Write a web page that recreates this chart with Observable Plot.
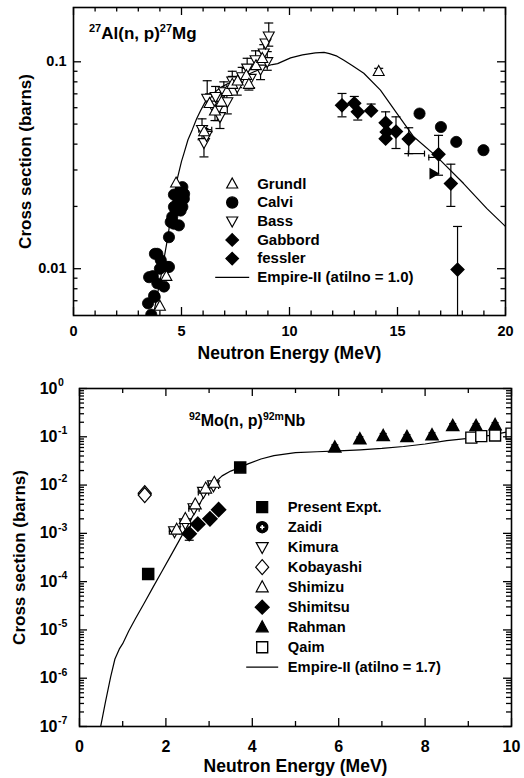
<!DOCTYPE html>
<html><head><meta charset="utf-8">
<script src="https://cdn.jsdelivr.net/npm/d3@7"></script>
<script src="https://cdn.jsdelivr.net/npm/@observablehq/plot@0.6"></script>
<style>
body{margin:0;background:#fff;}
#chart{width:524px;height:778px;position:relative;overflow:hidden;background:#fff;}
#chart svg{display:block;}
</style></head><body><div id="chart"></div>
<script>
// ================= TOP PANEL: 27Al(n,p)27Mg =================
const alCurveE = [3.70, 3.85, 4.04, 4.34, 4.55, 4.76, 5.00, 5.11, 5.30, 5.50, 5.70, 5.88, 6.10, 6.30, 6.80, 7.40, 8.20, 8.97, 9.20, 9.45, 10.05, 10.60, 11.20, 11.60, 11.85, 12.20, 12.50, 12.90, 13.44, 14.21, 14.98, 15.75, 16.83, 18.06, 19.14, 20.00];
const alCurveS = [0.0060, 0.0072, 0.0091, 0.0137, 0.0190, 0.0260, 0.0330, 0.0360, 0.0420, 0.0470, 0.0530, 0.0580, 0.0640, 0.0680, 0.0750, 0.0810, 0.0880, 0.0955, 0.0970, 0.0980, 0.1045, 0.1080, 0.1105, 0.1110, 0.1095, 0.1065, 0.1020, 0.0960, 0.0880, 0.0730, 0.0562, 0.0434, 0.0347, 0.0258, 0.0195, 0.0160];

const calviE = [3.45, 3.50, 3.60, 3.67, 3.73, 3.76, 3.77, 3.88, 3.88, 4.00, 4.04, 4.19, 4.34, 4.42, 4.42, 4.50, 4.57, 4.65, 4.65, 4.65, 4.73, 4.81, 4.81, 4.88, 4.90, 4.96, 4.96, 5.04, 5.04, 5.11, 5.12, 16.02, 17.01, 17.72, 18.98];
const calviS = [0.0068, 0.0091, 0.0060, 0.0092, 0.0074, 0.0073, 0.0118, 0.0085, 0.0118, 0.0100, 0.0110, 0.0082, 0.0102, 0.0102, 0.0142, 0.0168, 0.0178, 0.0165, 0.0199, 0.0228, 0.0191, 0.0205, 0.0222, 0.0162, 0.0225, 0.0191, 0.0240, 0.0199, 0.0248, 0.0218, 0.0230, 0.0562, 0.0484, 0.0410, 0.0374];

const grundlE  = [4.00, 4.30, 4.75, 6.05, 6.30, 6.55, 6.85, 7.10, 7.35, 7.60, 8.00, 8.12, 8.45, 8.74, 14.13];
const grundlS  = [0.0066, 0.0092, 0.026, 0.046, 0.063, 0.058, 0.064, 0.072, 0.078, 0.081, 0.086, 0.078, 0.096, 0.104, 0.090];
const grundlLo = [null, null, null, null, null, 0.052, null, 0.066, null, 0.075, null, 0.073, null, null, 0.087];
const grundlHi = [null, null, null, null, 0.070, null, 0.070, null, 0.085, null, 0.093, null, 0.104, 0.113, 0.093];

const bassE  = [5.95, 6.04, 6.16, 6.19, 6.42, 6.58, 6.66, 6.78, 6.96, 7.12, 7.35, 7.58, 7.81, 8.04, 8.20, 8.43, 8.66, 8.81, 8.89, 8.97, 9.04];
const bassS  = [0.047, 0.0406, 0.044, 0.0665, 0.0616, 0.0678, 0.0583, 0.0542, 0.0715, 0.064, 0.0806, 0.0755, 0.0845, 0.093, 0.083, 0.102, 0.092, 0.110, 0.123, 0.100, 0.133];
const bassLo = [0.042, 0.0347, null, null, null, null, 0.052, 0.0476, null, 0.056, null, 0.069, null, null, 0.075, null, 0.082, null, null, 0.091, 0.119];
const bassHi = [0.053, 0.0476, null, 0.081, null, 0.076, null, 0.061, 0.080, null, 0.090, null, 0.094, 0.104, null, 0.113, null, 0.121, null, 0.112, 0.154];

const gabbordE  = [12.43, 13.00, 13.16, 13.78, 14.45, 14.45];
const gabbordS  = [0.0616, 0.063, 0.0573, 0.058, 0.0507, 0.0425];
const gabbordLo = [0.0542, null, 0.0523, null, null, null];
const gabbordHi = [0.0703, 0.068, null, 0.0625, 0.0573, null];

const fesslerE  = [14.50, 14.93, 15.52, 16.90, 17.47, 17.78];
const fesslerS  = [0.0458, 0.046, 0.0423, 0.0357, 0.0258, 0.0099];
const fesslerLo = [null, 0.0381, 0.036, 0.0283, 0.020, 0.004];
const fesslerHi = [null, 0.0542, 0.048, 0.0441, 0.032, 0.016];

const alExtraE = [16.67];   // unlabelled marker
const alExtraS = [0.0288];

const alHbarS  = [0.036, 0.0345, 0.047];
const alHbarE1 = [15.50, 16.45, 5.80];
const alHbarE2 = [16.25, 16.95, 6.40];

const alXTicks = [0, 5, 10, 15, 20];
const alXMinor = [1, 2, 3, 4, 6, 7, 8, 9, 11, 12, 13, 14, 16, 17, 18, 19];
const alYTicks = [0.01, 0.1];
const alYTickLabels = ["0.01", "0.1"];
const alYMinor = [0.007, 0.008, 0.009, 0.02, 0.03, 0.04, 0.05, 0.06, 0.07, 0.08, 0.09];
const alLegendLabels = ["Grundl", "Calvi", "Bass", "Gabbord", "fessler", "Empire-II (atilno = 1.0)"];

// ================= BOTTOM PANEL: 92Mo(n,p)92mNb =================
const moCurveE = [0.49, 0.60, 0.72, 0.82, 0.92, 1.00, 1.14, 1.30, 1.50, 1.70, 1.90, 2.10, 2.30, 2.50, 2.70, 2.90, 3.10, 3.30, 3.50, 3.70, 3.90, 4.20, 4.50, 5.00, 5.50, 6.00, 6.50, 7.00, 7.50, 8.00, 8.50, 9.00, 9.50, 10.00];
const moCurveS = [1.0e-7, 3.2e-7, 1.05e-6, 2.5e-6, 4.0e-6, 5.2e-6, 9.5e-6, 1.74e-5, 3.6e-5, 7.6e-5, 1.58e-4, 3.3e-4, 6.9e-4, 1.45e-3, 3.0e-3, 6.3e-3, 0.0105, 0.0155, 0.0195, 0.0229, 0.0275, 0.0347, 0.0407, 0.0468, 0.0490, 0.0513, 0.0537, 0.0575, 0.0630, 0.0708, 0.0830, 0.0930, 0.1070, 0.1320];

const presentE = [1.59, 3.72];
const presentS = [1.44e-4, 0.0232];
const zaidiE = [];
const zaidiS = [];
const kimuraE = [2.20, 2.45, 2.65, 2.87, 3.10];
const kimuraS = [0.0011, 0.0016, 0.0033, 0.0072, 0.0098];
const kimuraE1 = [2.08, 2.33, 2.53, 2.75, 2.98];
const kimuraE2 = [2.32, 2.57, 2.77, 2.99, 3.22];
const kobayashiE = [1.51, 1.51];
const kobayashiS = [0.0068, 0.0062];
const shimizuE = [2.25, 2.45, 2.68, 2.92, 3.12];
const shimizuS = [0.0012, 0.0020, 0.0040, 0.0085, 0.0112];
const shimitsuE  = [2.54, 2.74, 3.02, 3.22];
const shimitsuS  = [0.00098, 0.00155, 0.0020, 0.0031];
const shimitsuLo = [0.00072, null, null, null];
const shimitsuHi = [null, null, null, null];
const rahmanE  = [5.91, 6.49, 7.03, 7.58, 8.16, 8.64, 9.18, 9.62];
const rahmanS  = [0.060, 0.089, 0.104, 0.099, 0.108, 0.168, 0.168, 0.175];
const rahmanLo = [0.052, 0.078, 0.091, 0.087, 0.095, 0.148, 0.148, 0.154];
const rahmanHi = [0.068, 0.100, 0.117, 0.111, 0.121, 0.188, 0.188, 0.196];
const qaimE = [9.07, 9.30, 9.62, 10.00];
const qaimS = [0.096, 0.103, 0.106, 0.116];

const moXTicks = [0, 2, 4, 6, 8, 10];
const moXMinor = [1, 3, 5, 7, 9];
const moYTicks = [1, 1e-1, 1e-2, 1e-3, 1e-4, 1e-5, 1e-6, 1e-7];
const moYTickBase = "10";
const moYTickExp = ["0", "-1", "-2", "-3", "-4", "-5", "-6", "-7"];
const moYMinor = [];
for (let p = -7; p < 0; p++) for (let m = 2; m <= 9; m++) moYMinor.push(m * Math.pow(10, p));
const moLegendLabels = ["Present Expt.", "Zaidi", "Kimura", "Kobayashi", "Shimizu", "Shimitsu", "Rahman", "Qaim", "Empire-II (atilno = 1.7)"];

// ================= helpers =================
const FONT = "'Liberation Sans', Arial, Helvetica, sans-serif";
const sym = {
  triUp: (w, h) => ({draw(c) { c.moveTo(0, -h * 0.58); c.lineTo(w / 2, h * 0.42); c.lineTo(-w / 2, h * 0.42); c.closePath(); }}),
  triDown: (w, h) => ({draw(c) { c.moveTo(0, h * 0.58); c.lineTo(w / 2, -h * 0.42); c.lineTo(-w / 2, -h * 0.42); c.closePath(); }}),
  triRight: (w, h) => ({draw(c) { c.moveTo(w * 0.58, 0); c.lineTo(-w * 0.42, h / 2); c.lineTo(-w * 0.42, -h / 2); c.closePath(); }}),
  diamond: (a, b = a) => ({draw(c) { c.moveTo(0, -b); c.lineTo(a, 0); c.lineTo(0, b); c.lineTo(-a, 0); c.closePath(); }}),
  square: s => ({draw(c) { c.rect(-s / 2, -s / 2, s, s); }}),
  circle: r => ({draw(c) { c.moveTo(r, 0); c.arc(0, 0, r, 0, 2 * Math.PI); }}),
  hline: w => ({draw(c) { c.moveTo(-w / 2, 0); c.lineTo(w / 2, 0); }}),
  vline: h => ({draw(c) { c.moveTo(0, -h / 2); c.lineTo(0, h / 2); }}),
  plus: s => ({draw(c) { c.moveTo(-s, 0); c.lineTo(s, 0); c.moveTo(0, -s); c.lineTo(0, s); }})
};
const rows = (E, S, lo, hi) => E.map((e, i) => ({e, s: S[i], lo: lo ? lo[i] : null, hi: hi ? hi[i] : null}));
const TXT = {fontWeight: "bold", fill: "black", lineAnchor: "middle"};

function errMarks(data, capW) {
  const d = data.filter(r => r.lo != null || r.hi != null);
  const common = {stroke: "black", strokeWidth: 1.2, clip: true};
  return [
    Plot.ruleX(d, {x: "e", y1: r => r.lo ?? r.s, y2: r => r.hi ?? r.s, ...common}),
    Plot.dot(d.filter(r => r.lo != null), {x: "e", y: "lo", symbol: sym.hline(capW), fill: "none", ...common}),
    Plot.dot(d.filter(r => r.hi != null), {x: "e", y: "hi", symbol: sym.hline(capW), fill: "none", ...common})
  ];
}
function hbarMarks(S, E1, E2, capH) {
  const d = S.map((s, i) => ({s, e1: E1[i], e2: E2[i]}));
  const common = {stroke: "black", strokeWidth: 1.2, clip: true};
  return [
    Plot.ruleY(d, {y: "s", x1: "e1", x2: "e2", ...common}),
    Plot.dot(d, {x: "e1", y: "s", symbol: sym.vline(capH), fill: "none", ...common}),
    Plot.dot(d, {x: "e2", y: "s", symbol: sym.vline(capH), fill: "none", ...common})
  ];
}
function frameTicks(W, H, xMaj, xMin, yMaj, yMin, Lmaj, Lmin) {
  const st = {stroke: "black", strokeWidth: 1.3};
  return [
    Plot.tickX(xMaj, {x: d => d, insetTop: H - Lmaj, ...st}),
    Plot.tickX(xMaj, {x: d => d, insetBottom: H - Lmaj, ...st}),
    Plot.tickX(xMin, {x: d => d, insetTop: H - Lmin, ...st}),
    Plot.tickX(xMin, {x: d => d, insetBottom: H - Lmin, ...st}),
    Plot.tickY(yMaj, {y: d => d, insetRight: W - Lmaj, ...st}),
    Plot.tickY(yMaj, {y: d => d, insetLeft: W - Lmaj, ...st}),
    Plot.tickY(yMin, {y: d => d, insetRight: W - Lmin, ...st}),
    Plot.tickY(yMin, {y: d => d, insetLeft: W - Lmin, ...st})
  ];
}
function addTitle(svg, x, y, parts, big, small, shift) {
  const t = d3.select(svg).append("text").attr("x", x).attr("y", y)
    .attr("text-anchor", "start")
    .attr("font-family", FONT).attr("font-weight", "bold").attr("fill", "black");
  let up = false;
  parts.forEach(([s, sup]) => {
    const sp = t.append("tspan").attr("font-size", sup ? small : big).text(s);
    if (sup && !up) { sp.attr("dy", -shift); up = true; }
    else if (!sup && up) { sp.attr("dy", shift); up = false; }
  });
}
function legendMarks(items, dxSym, dxLab, dy0, step, fontSize) {
  const marks = [];
  items.forEach((it, i) => {
    const dy = dy0 + i * step;
    it.syms.forEach(s => marks.push(Plot.dot([it.label], {frameAnchor: "top-left", dx: dxSym, dy, symbol: s.symbol, fill: s.fill, stroke: s.stroke, strokeWidth: s.sw ?? 1.2})));
    marks.push(Plot.text([it.label], {frameAnchor: "top-left", dx: dxLab, dy, text: d => d, textAnchor: "start", fontSize, ...TXT}));
  });
  return marks;
}

// ================= TOP PLOT =================
const T = {w: 524, h: 380, mt: 7, mb: 65, ml: 73, mr: 19};
const TW = T.w - T.ml - T.mr, TH = T.h - T.mt - T.mb;
const calvi = rows(calviE, calviS);
const grundl = rows(grundlE, grundlS, grundlLo, grundlHi);
const bass = rows(bassE, bassS, bassLo, bassHi);
const gabbord = rows(gabbordE, gabbordS, gabbordLo, gabbordHi);
const fessler = rows(fesslerE, fesslerS, fesslerLo, fesslerHi);
const alExtra = rows(alExtraE, alExtraS);
const alCurve = rows(alCurveE, alCurveS);

const triUpA = sym.triUp(11, 10), triDnA = sym.triDown(11, 10), diaA = sym.diamond(6.3), circA = sym.circle(5.6);
const topLegend = [
  {label: alLegendLabels[0], syms: [{symbol: triUpA, fill: "white", stroke: "black"}]},
  {label: alLegendLabels[1], syms: [{symbol: circA, fill: "black", stroke: "black"}]},
  {label: alLegendLabels[2], syms: [{symbol: triDnA, fill: "white", stroke: "black"}]},
  {label: alLegendLabels[3], syms: [{symbol: diaA, fill: "black", stroke: "black"}]},
  {label: alLegendLabels[4], syms: [{symbol: diaA, fill: "black", stroke: "black"}]},
  {label: alLegendLabels[5], syms: [{symbol: sym.hline(34), fill: "none", stroke: "black", sw: 1.2}]}
];

const topPlot = Plot.plot({
  width: T.w, height: T.h, marginTop: T.mt, marginBottom: T.mb, marginLeft: T.ml, marginRight: T.mr,
  style: {fontFamily: FONT, background: "white", color: "black", overflow: "visible"},
  x: {domain: [0, 20], axis: null},
  y: {type: "log", domain: [0.00594, 0.183], axis: null},
  marks: [
    Plot.line(alCurve, {x: "e", y: "s", stroke: "black", strokeWidth: 1.2, clip: true, curve: "linear"}),
    ...errMarks(bass, 9), ...errMarks(grundl, 9), ...errMarks(gabbord, 9), ...errMarks(fessler, 9),
    ...hbarMarks(alHbarS, alHbarE1, alHbarE2, 6),
    Plot.dot(calvi, {x: "e", y: "s", symbol: circA, fill: "black", stroke: "black", strokeWidth: 0.8, clip: true}),
    Plot.dot(bass, {x: "e", y: "s", symbol: triDnA, fill: "white", stroke: "black", strokeWidth: 1.1, clip: true}),
    Plot.dot(grundl, {x: "e", y: "s", symbol: triUpA, fill: "white", stroke: "black", strokeWidth: 1.1, clip: true}),
    Plot.dot(gabbord, {x: "e", y: "s", symbol: diaA, fill: "black", stroke: "black", clip: true}),
    Plot.dot(fessler, {x: "e", y: "s", symbol: diaA, fill: "black", stroke: "black", clip: true}),
    Plot.dot(alExtra, {x: "e", y: "s", symbol: sym.triRight(8, 9), fill: "black", stroke: "black", clip: true}),
    ...frameTicks(TW, TH, alXTicks, alXMinor, alYTicks, alYMinor, 8, 4.5),
    Plot.frame({stroke: "black", strokeWidth: 1.6}),
    Plot.text(alXTicks, {x: d => d, frameAnchor: "bottom", dy: 16, text: d => String(d), fontSize: 14.5, textAnchor: "middle", ...TXT}),
    Plot.text(alYTicks, {y: d => d, frameAnchor: "left", dx: -7, textAnchor: "end", text: (d, i) => alYTickLabels[i], fontSize: 14.5, ...TXT}),
    Plot.text(["Neutron Energy (MeV)"], {frameAnchor: "bottom", dy: 38, text: d => d, fontSize: 17.5, textAnchor: "middle", ...TXT}),
    Plot.text(["Cross section (barns)"], {frameAnchor: "left", dx: -48, rotate: -90, text: d => d, fontSize: 17, textAnchor: "middle", ...TXT}),
    ...legendMarks(topLegend, 158.7, 183.7, 176.3, 18.7, 15)
  ]
});

// ================= BOTTOM PLOT =================
const B = {w: 524, h: 398, mt: 8, mb: 52, ml: 79, mr: 13};
const BW = B.w - B.ml - B.mr, BH = B.h - B.mt - B.mb;
const moCurve = rows(moCurveE, moCurveS);
const present = rows(presentE, presentS);
const zaidi = rows(zaidiE, zaidiS);
const kimura = rows(kimuraE, kimuraS);
const kobayashi = rows(kobayashiE, kobayashiS);
const shimizu = rows(shimizuE, shimizuS);
const shimitsu = rows(shimitsuE, shimitsuS, shimitsuLo, shimitsuHi);
const rahman = rows(rahmanE, rahmanS, rahmanLo, rahmanHi);
const qaim = rows(qaimE, qaimS);

const sqB = sym.square(11), triUpB = sym.triUp(12, 11), triDnB = sym.triDown(12, 11), diaB = sym.diamond(7), kobB = sym.diamond(6.5, 7.5), circB = sym.circle(5.6);
const botLegend = [
  {label: moLegendLabels[0], syms: [{symbol: sqB, fill: "black", stroke: "black"}]},
  {label: moLegendLabels[1], syms: [{symbol: circB, fill: "black", stroke: "black"}, {symbol: sym.plus(2.2), fill: "none", stroke: "white", sw: 1.6}]},
  {label: moLegendLabels[2], syms: [{symbol: triDnB, fill: "white", stroke: "black"}]},
  {label: moLegendLabels[3], syms: [{symbol: kobB, fill: "white", stroke: "black"}]},
  {label: moLegendLabels[4], syms: [{symbol: triUpB, fill: "white", stroke: "black"}]},
  {label: moLegendLabels[5], syms: [{symbol: diaB, fill: "black", stroke: "black"}]},
  {label: moLegendLabels[6], syms: [{symbol: triUpB, fill: "black", stroke: "black"}]},
  {label: moLegendLabels[7], syms: [{symbol: sqB, fill: "white", stroke: "black", sw: 1.4}]},
  {label: moLegendLabels[8], syms: [{symbol: sym.hline(32), fill: "none", stroke: "black", sw: 1.2}]}
];

const botPlot = Plot.plot({
  width: B.w, height: B.h, marginTop: B.mt, marginBottom: B.mb, marginLeft: B.ml, marginRight: B.mr,
  style: {fontFamily: FONT, background: "white", color: "black", overflow: "visible"},
  x: {domain: [0, 10], axis: null},
  y: {type: "log", domain: [1e-7, 1], axis: null},
  marks: [
    Plot.line(moCurve, {x: "e", y: "s", stroke: "black", strokeWidth: 1.2, clip: true}),
    ...errMarks(shimitsu, 9), ...errMarks(rahman, 7),
    ...hbarMarks(kimuraS, kimuraE1, kimuraE2, 7),
    Plot.dot(present, {x: "e", y: "s", symbol: sqB, fill: "black", stroke: "black", clip: true}),
    Plot.dot(kobayashi, {x: "e", y: "s", symbol: kobB, fill: "white", stroke: "black", strokeWidth: 1.3, clip: true}),
    Plot.dot(kimura, {x: "e", y: "s", symbol: triDnB, fill: "white", stroke: "black", strokeWidth: 1.1, clip: true}),
    Plot.dot(shimizu, {x: "e", y: "s", symbol: triUpB, fill: "white", stroke: "black", strokeWidth: 1.1, clip: true}),
    Plot.dot(zaidi, {x: "e", y: "s", symbol: circB, fill: "black", stroke: "black", clip: true}),
    Plot.dot(shimitsu, {x: "e", y: "s", symbol: diaB, fill: "black", stroke: "black", clip: true}),
    Plot.dot(rahman, {x: "e", y: "s", symbol: triUpB, fill: "black", stroke: "black", clip: true}),
    Plot.dot(qaim, {x: "e", y: "s", symbol: sqB, fill: "white", stroke: "black", strokeWidth: 1.4, clip: true}),
    ...frameTicks(BW, BH, moXTicks, moXMinor, moYTicks, moYMinor, 8, 5),
    Plot.frame({stroke: "black", strokeWidth: 1.6}),
    Plot.text(moXTicks, {x: d => d, frameAnchor: "bottom", dy: 20, text: d => String(d), fontSize: 16, textAnchor: "middle", ...TXT}),
    Plot.text(moYTicks, {y: d => d, frameAnchor: "left", dx: -22, textAnchor: "end", text: () => moYTickBase, fontSize: 16, ...TXT}),
    Plot.text(moYTicks, {y: d => d, frameAnchor: "left", dx: -21.5, dy: -6, textAnchor: "start", text: (d, i) => moYTickExp[i], fontSize: 10.5, ...TXT}),
    Plot.text(["Neutron Energy (MeV)"], {frameAnchor: "bottom", dy: 40, text: d => d, fontSize: 17.5, textAnchor: "middle", ...TXT}),
    Plot.text(["Cross section (barns)"], {frameAnchor: "left", dx: -60, rotate: -90, text: d => d, fontSize: 17, textAnchor: "middle", ...TXT}),
    ...legendMarks(botLegend, 182.7, 208.3, 118.7, 20, 14.7)
  ]
});

const chart = document.getElementById("chart");
chart.appendChild(topPlot);
chart.appendChild(botPlot);
addTitle(topPlot, 89, 39, [["27", true], ["Al(n, p)", false], ["27", true], ["Mg", false]], 17, 11, 7);
addTitle(botPlot, 189, 46, [["92", true], ["Mo(n, p)", false], ["92m", true], ["Nb", false]], 16, 10.5, 6.5);
</script>
</body></html>
